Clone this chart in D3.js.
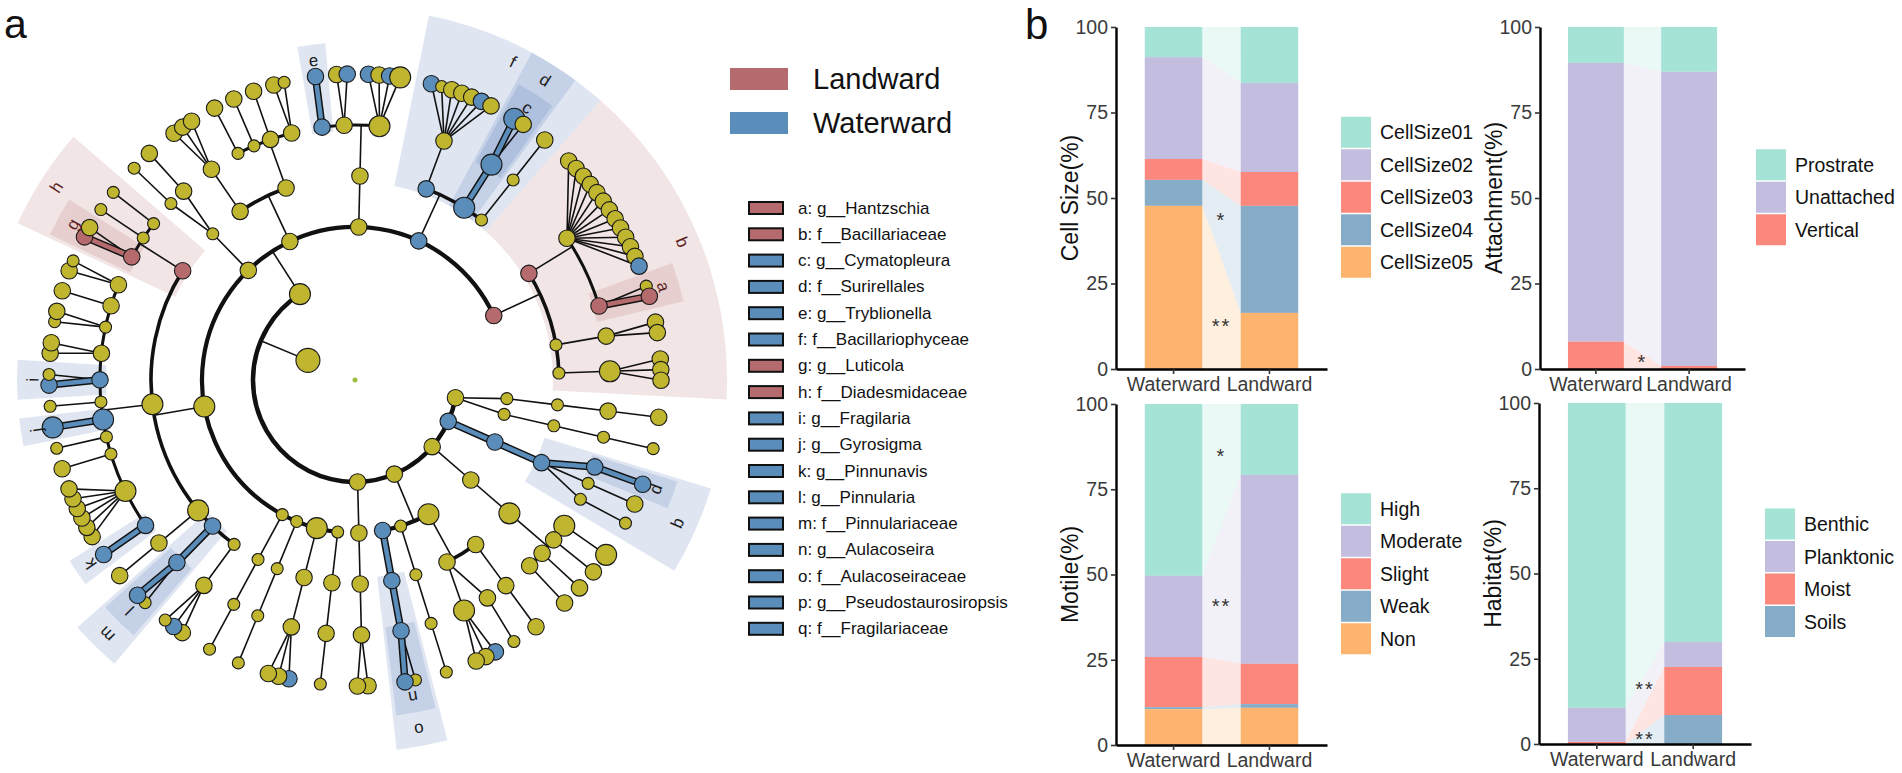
<!DOCTYPE html>
<html>
<head>
<meta charset="utf-8">
<script src="https://cdn.jsdelivr.net/npm/d3@7"></script>
<style>
body { margin: 0; background: #fff; }
svg { display: block; font-family: "Liberation Sans", Arial, sans-serif; }
</style>
</head>
<body>
<svg id="fig" width="1902" height="773"></svg>
<script>
// ---------- panel b data ----------
var groupNames = ["Waterward", "Landward"];
var yTicks = [0, 25, 50, 75, 100];
var traitColors = ["#a6e3d7", "#c3bee0", "#fb877d", "#86acc8", "#fdb46f"];

var cellSizeKeys = ["CellSize01", "CellSize02", "CellSize03", "CellSize04", "CellSize05"];
var cellSizeWater = [8.8, 29.8, 6.1, 7.6, 47.7];
var cellSizeLand = [16.4, 26.0, 9.9, 31.3, 16.4];
var cellSizeStars = [["*", 44], ["**", 13]];

var attachKeys = ["Prostrate", "Unattached", "Vertical"];
var attachWater = [10.5, 81.5, 8.0];
var attachLand = [13.1, 86.0, 0.9];
var attachStars = [["*", 2.3]];

var motileKeys = ["High", "Moderate", "Slight", "Weak", "Non"];
var motileWater = [50.4, 23.8, 14.7, 0.6, 10.5];
var motileLand = [20.8, 55.4, 11.8, 1.1, 10.9];
var motileStars = [["*", 85], ["**", 41]];

var habitatKeys = ["Benthic", "Planktonic", "Moist", "Soils"];
var habitatWater = [89.4, 10.0, 0.6, 0.0];
var habitatLand = [70.1, 7.3, 14.1, 8.5];
var habitatStars = [["**", 16.5], ["**", 1.8]];

// ---------- panel a data ----------
var groupLegend = [["Landward", "L"], ["Waterward", "W"]];
var cladeLegend = [
    ["a", "g__Hantzschia", "L"], ["b", "f__Bacillariaceae", "L"], ["c", "g__Cymatopleura", "W"],
    ["d", "f__Surirellales", "W"], ["e", "g__Tryblionella", "W"], ["f", "f__Bacillariophyceae", "W"],
    ["g", "g__Luticola", "L"], ["h", "f__Diadesmidaceae", "L"], ["i", "g__Fragilaria", "W"],
    ["j", "g__Gyrosigma", "W"], ["k", "g__Pinnunavis", "W"], ["l", "g__Pinnularia", "W"],
    ["m", "f__Pinnulariaceae", "W"], ["n", "g__Aulacoseira", "W"], ["o", "f__Aulacoseiraceae", "W"],
    ["p", "g__Pseudostaurosiropsis", "W"], ["q", "f__Fragilariaceae", "W"]
];

// node = [abundance, children, group, letter]; levels: phylum, class, order, family, genus, species
var cladeTree = [1, [
 [5, [
  [3, [
   [2, [[2, [[3, [[3]]]]]]],
   [2, [[2, [[2, [[2]]]]]]]
  ]],
  [3, [
   [3, [
    [3, [
     [3, [[3, 0, "W"]], "W", "p"],
     [2, [[3]]],
     [2, [[2]]]
    ], "W", "q"]
   ], "W"]
  ], "W"],
  [3, [
   [3, [
    [4, [[4, [[4]]], [3, [[3]]], [3, [[3]]], [3, [[3]]]]]
   ]]
  ]],
  [3, [
   [4, [
    [3, [[3, [[3]]]]],
    [3, [[3, [[2]]], [4, [[3, 0, "W"], [3], [3]]]]]
   ]],
   [2, [[2, [[2, [[2]]]]]]],
   [3, [[3, [[3, [[2], [3, 0, "W"]], "W", "n"]], "W", "o"]], "W"]
  ]],
  [3, [[3, [[3, [[3, [[3], [3]]]]]]]]],
  [4, [
   [2, [[3, [[3, [[2]]]]]]],
   [4, [[3, [[3, [[3, 0, "W"], [3], [3]]]]]]],
   [2, [[2, [[2, [[2]]]]]]],
   [2, [[2, [[2, [[2]]]]]]],
   [4, [
    [2, [[3, [[3], [3, 0, "W"], [2]]]]],
    [3, [[3, [[2], [3, 0, "W"]], "W", "l"]], "W", "m"],
    [4, [[3, [[3]]]]],
    [4, [
     [3, [[3, 0, "W"]], "W", "k"],
     [4, [[3], [3], [3], [3], [3], [3]]],
     [2, [[3]]],
     [2, [[2]]],
     [4, [[4, 0, "W"]], "W", "j"],
     [2, [[2]]],
     [3, [[3, 0, "W"], [2]], "W", "i"],
     [3, [[3], [3]]],
     [2, [[2], [3]]],
     [3, [[3]]],
     [3, [[3], [2]]]
    ]],
    [3, [
     [3, [[3, 0, "L"], [3]], "L", "g"],
     [2, [[2]]],
     [2, [[2]]]
    ], "L", "h"]
   ]],
   [3, [[2, [[2, [[2]]], [3, [[3]]]]]]],
   [3, [
    [3, [[3, [[3], [3], [3]]]]],
    [3, [[2, [[3]]], [2, [[3]]], [3, [[3]]], [3, [[3], [2]]]]]
   ]],
   [3, [
    [3, [
     [3, [[3, 0, "W"]], "W", "e"],
     [3, [[3], [3, 0, "W"]]],
     [4, [[3, 0, "W"], [3], [3, 0, "W"], [4]]]
    ]]
   ]],
   [3, [
    [3, [[3, [[3, 0, "W"], [2], [3], [3], [3], [3, 0, "W"], [3]]]], "W"],
    [4, [[4, [[4, 0, "W"], [3]], "W", "c"]], "W", "d"],
    [2, [[2, [[3]]]]]
   ], "W", "f"],
   [3, [
    [3, [
     [3, [[3], [3], [3], [3], [3], [3], [3], [3], [3], [3], [3], [3], [3, 0, "W"]]],
     [3, [[2], [3, 0, "L"]], "L", "a"]
    ], "L"],
    [2, [[3, [[3], [3]]]]],
    [2, [[4, [[3], [3], [3]]]]]
   ], "L", "b"]
  ]]
 ]]
]];

// ---------- drawing ----------
var svg = d3.select("#fig");

var nodeFill = { W: "#5b8dba", L: "#b56b6e", "": "#bfb52e" };
var shadeFill = { W: "#4f72b8", L: "#b86f70" };
var labelFill = { W: "#1b1b1b", L: "#5a1e1e" };

var toNode = function(a) {
    return {
        ab: a[0],
        grp: a[2] || "",
        lab: a[3] || "",
        children: a[1] ? a[1].map(toNode) : undefined
    };
};

var lca = function(a, b) {
    while (a.depth > b.depth) a = a.parent;
    while (b.depth > a.depth) b = b.parent;
    while (a !== b) { a = a.parent; b = b.parent; }
    return a;
};
// leaves further apart when they split higher up the tree
var sepByLevel = [3.5, 3.5, 3, 2.5, 2, 1];
var sep = function(a, b) { return sepByLevel[lca(a, b).depth]; };

var cx = 355, cy = 380;
var root = d3.hierarchy(toNode(cladeTree));
d3.cluster().size([360, 1]).separation(sep)(root);

var leaves = root.leaves();
var units = sep(leaves[0], leaves[leaves.length - 1]);
for (var i = 1; i < leaves.length; i++) {
    units += sep(leaves[i], leaves[i - 1]);
}
var unit = 360 / units;
var rot = 7 - leaves[0].x;

// internal clades sit at the mean angle of their leaves
root.eachAfter(function(d) {
    if (d.children) {
        d.x = d3.mean(d.leaves(), function(l) { return l.x; });
    }
});

var rScale = d3.scaleLinear().domain([0, 6]).range([0, 306]);
var sizeScale = d3.scaleLinear().domain([1, 2, 4, 5]).range([2.5, 6, 10.5, 12]);
var deg = function(d) { return d.x + rot; };
var rad = function(a) { return a * Math.PI / 180; };
var px = function(r, a) { return cx + r * Math.cos(rad(a)); };
var py = function(r, a) { return cy + r * Math.sin(rad(a)); };

var gA = svg.append("g");

// shaded sectors for the lettered clades
var shadeArc = d3.arc();
var labelled = root.descendants().filter(function(d) { return d.data.lab; });
labelled.sort(function(a, b) { return a.depth - b.depth; });
labelled.forEach(function(d) {
    var xs = d.leaves().map(function(l) { return l.x + rot; });
    var isGenus = d.depth === 5;
    var pad = (isGenus ? 1.2 : 1.5) * unit;
    var a0 = d3.min(xs) - pad, a1 = d3.max(xs) + pad;
    d.shade = [a0, a1];
    gA.append("path")
        .attr("transform", "translate(" + cx + "," + cy + ")")
        .attr("d", shadeArc({
            innerRadius: isGenus ? rScale(5) - 6 : 198,
            outerRadius: isGenus ? 338 : 372,
            startAngle: rad(a0 + 90),
            endAngle: rad(a1 + 90)
        }))
        .attr("fill", shadeFill[d.data.grp])
        .attr("fill-opacity", 0.18);
});

// branches
var arcWidth = { 2: 4.5, 3: 4.2, 4: 3.6, 5: 3 };
var gEdge = gA.append("g").attr("fill", "none");
var gHi = gA.append("g").attr("fill", "none");
root.each(function(p) {
    if (!p.children || p.depth === 0) return;
    var ap = deg(p), rp = rScale(p.depth);
    var angs = p.children.map(deg).concat([ap]);
    var lo = d3.min(angs), hi = d3.max(angs);
    var rc = rScale(p.depth + 1);
    var straight = p.depth + 1 === 6 || hi - lo < 8;
    if (straight) {
        p.children.forEach(function(c) {
            var path = d3.path();
            path.moveTo(px(rp, ap), py(rp, ap));
            path.lineTo(px(rc, deg(c)), py(rc, deg(c)));
            if (p.data.grp && p.data.grp === c.data.grp) {
                gHi.append("path").attr("d", path.toString())
                    .attr("stroke", "#111").attr("stroke-width", 7.5);
                gHi.append("path").attr("d", path.toString())
                    .attr("stroke", nodeFill[c.data.grp]).attr("stroke-width", 4.5);
            } else {
                gEdge.append("path").attr("d", path.toString())
                    .attr("stroke", "#111").attr("stroke-width", 1.6);
            }
        });
    } else {
        var line = d3.path();
        line.moveTo(px(rp, ap), py(rp, ap));
        line.lineTo(px(rc, ap), py(rc, ap));
        gEdge.append("path").attr("d", line.toString())
            .attr("stroke", "#111").attr("stroke-width", 1.6);
        var arc = d3.path();
        arc.arc(cx, cy, rc, rad(lo), rad(hi));
        gEdge.append("path").attr("d", arc.toString())
            .attr("stroke", "#111").attr("stroke-width", arcWidth[p.depth + 1]);
    }
});

// nodes
gA.append("g").selectAll("circle")
    .data(root.descendants().filter(function(d) { return d.depth > 0; }))
    .enter().append("circle")
    .attr("cx", function(d) { return px(rScale(d.depth), deg(d)); })
    .attr("cy", function(d) { return py(rScale(d.depth), deg(d)); })
    .attr("r", function(d) { return sizeScale(d.data.ab); })
    .attr("fill", function(d) { return nodeFill[d.data.grp]; })
    .attr("stroke", "#1a1a1a")
    .attr("stroke-width", 1.1);

gA.append("circle").attr("cx", cx).attr("cy", cy).attr("r", 2.5).attr("fill", "#9fbf3f");

// clade letters
labelled.forEach(function(d) {
    var a = (d.shade[0] + d.shade[1]) / 2;
    var r = d.depth === 5 ? 322 : 355;
    gA.append("text")
        .attr("transform", "translate(" + px(r, a) + "," + py(r, a) + ") rotate(" + (a + 90) + ")")
        .attr("text-anchor", "middle")
        .attr("dominant-baseline", "central")
        .attr("font-size", 17)
        .attr("fill", labelFill[d.data.grp])
        .text(d.data.lab);
});

// group legend
groupLegend.forEach(function(g, gi) {
    var yc = 79 + gi * 44;
    gA.append("rect").attr("x", 730).attr("y", yc - 11).attr("width", 58).attr("height", 22)
        .attr("fill", nodeFill[g[1]]);
    gA.append("text").attr("x", 813).attr("y", yc).attr("dominant-baseline", "central")
        .attr("font-size", 29).attr("fill", "#111").text(g[0]);
});

// clade legend
cladeLegend.forEach(function(c, ci) {
    var yc = 208 + ci * 26.3;
    gA.append("rect").attr("x", 749).attr("y", yc - 6).attr("width", 34).attr("height", 12)
        .attr("fill", nodeFill[c[2]]).attr("stroke", "#111").attr("stroke-width", 2);
    gA.append("text").attr("x", 798).attr("y", yc).attr("dominant-baseline", "central")
        .attr("font-size", 17).attr("fill", "#111").text(c[0] + ": " + c[1]);
});

svg.append("text").attr("x", 4).attr("y", 38).attr("font-size", 41).attr("fill", "#111").text("a");
svg.append("text").attr("x", 1025).attr("y", 39).attr("font-size", 42).attr("fill", "#111").text("b");

// ---------- panel b ----------
var traitPanels = [
    { keys: cellSizeKeys, water: cellSizeWater, land: cellSizeLand, stars: cellSizeStars,
      title: "Cell Size(%)", x0: 1116, x1: 1327, y0: 369, y1: 27, legendX: 1341 },
    { keys: attachKeys, water: attachWater, land: attachLand, stars: attachStars,
      title: "Attachment(%)", x0: 1540, x1: 1745, y0: 369, y1: 27, legendX: 1756 },
    { keys: motileKeys, water: motileWater, land: motileLand, stars: motileStars,
      title: "Motile(%)", x0: 1116, x1: 1327, y0: 745, y1: 404, legendX: 1341 },
    { keys: habitatKeys, water: habitatWater, land: habitatLand, stars: habitatStars,
      title: "Habitat(%)", x0: 1539, x1: 1751, y0: 744, y1: 403, legendX: 1765 }
];

traitPanels.forEach(function(pn) {
    var g = svg.append("g");
    var rows = groupNames.map(function(name, gi) {
        var row = { group: name };
        pn.keys.forEach(function(k, ki) {
            row[k] = (gi === 0 ? pn.water : pn.land)[ki];
        });
        return row;
    });
    var series = d3.stack().keys(pn.keys).order(d3.stackOrderReverse)(rows);

    var x = d3.scaleBand().domain(groupNames).range([pn.x0, pn.x1])
        .paddingInner(0.4).paddingOuter(0.3);
    var y = d3.scaleLinear().domain([0, 100]).range([pn.y0, pn.y1]);
    var color = function(k) { return traitColors[pn.keys.indexOf(k)]; };

    // flows between the two bars
    series.forEach(function(s) {
        var w = s[0], l = s[1];
        var xa = x(groupNames[0]) + x.bandwidth(), xb = x(groupNames[1]);
        g.append("path")
            .attr("d", "M" + xa + "," + y(w[1]) + "L" + xb + "," + y(l[1]) +
                "L" + xb + "," + y(l[0]) + "L" + xa + "," + y(w[0]) + "Z")
            .attr("fill", color(s.key))
            .attr("fill-opacity", 0.22);
    });

    series.forEach(function(s) {
        g.selectAll(null).data(s).enter().append("rect")
            .attr("x", function(d) { return x(d.data.group); })
            .attr("y", function(d) { return y(d[1]); })
            .attr("width", x.bandwidth())
            .attr("height", function(d) { return y(d[0]) - y(d[1]); })
            .attr("fill", color(s.key));
    });

    var xMid = (x(groupNames[0]) + x.bandwidth() + x(groupNames[1])) / 2;
    pn.stars.forEach(function(st) {
        g.append("text").attr("x", xMid).attr("y", y(st[1]) + 8)
            .attr("text-anchor", "middle").attr("font-size", 20)
            .attr("letter-spacing", 2).attr("fill", "#333").text(st[0]);
    });

    var xAxis = g.append("g").attr("transform", "translate(0," + pn.y0 + ")")
        .call(d3.axisBottom(x).tickSize(5).tickSizeOuter(0).tickPadding(3));
    var yAxis = g.append("g").attr("transform", "translate(" + pn.x0 + ",0)")
        .call(d3.axisLeft(y).tickValues(yTicks).tickSize(5).tickSizeOuter(0).tickPadding(3));
    [xAxis, yAxis].forEach(function(ax) {
        ax.select(".domain").attr("stroke", "#000").attr("stroke-width", 2.4);
        ax.selectAll(".tick line").attr("stroke", "#333").attr("stroke-width", 1.6);
        ax.selectAll(".tick text").attr("font-size", 19.5).attr("fill", "#3a3a3a")
            .attr("font-family", "Liberation Sans, Arial, sans-serif");
    });

    g.append("text")
        .attr("transform", "translate(" + (pn.x0 - 46) + "," + ((pn.y0 + pn.y1) / 2) + ") rotate(-90)")
        .attr("text-anchor", "middle").attr("dominant-baseline", "central")
        .attr("font-size", 23).attr("fill", "#111").text(pn.title);

    var step = 32.5;
    var top = (pn.y0 + pn.y1) / 2 - pn.keys.length * step / 2;
    pn.keys.forEach(function(k, ki) {
        g.append("rect").attr("x", pn.legendX).attr("y", top + ki * step)
            .attr("width", 30).attr("height", 31).attr("fill", color(k));
        g.append("text").attr("x", pn.legendX + 39).attr("y", top + ki * step + 15.5)
            .attr("dominant-baseline", "central").attr("font-size", 19.5)
            .attr("fill", "#111").text(k);
    });
});
</script>
</body>
</html>
